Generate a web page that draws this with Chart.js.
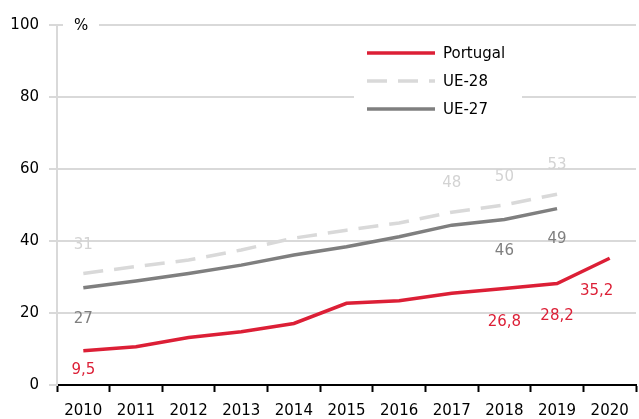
<!DOCTYPE html>
<html lang="pt">
<head>
<meta charset="UTF-8">
<script src="https://cdn.jsdelivr.net/npm/chart.js"></script>
<style>
  html, body { margin: 0; padding: 0; background: #fff; }
  .box { width: 639px; height: 419px; }
</style>
</head>
<body>
<div class="box"><canvas id="grafico" width="639" height="419"></canvas></div>
<script>
  // dados
  const anos = ['2010', '2011', '2012', '2013', '2014', '2015', '2016', '2017', '2018', '2019', '2020'];
  const portugal = [9.5, 10.6, 13.2, 14.8, 17.1, 22.7, 23.4, 25.5, 26.8, 28.2, 35.2];
  const ue28 = [31, 32.9, 34.7, 37.5, 40.8, 43, 45, 48, 50, 53, null];
  const ue27 = [27, 28.9, 31, 33.3, 36.1, 38.4, 41.2, 44.4, 46, 49, null];
  const yTicks = [0, 20, 40, 60, 80, 100];

  // pontos com rótulo
  const rotPortugal = [0, 8, 9, 10];
  const rotUe28 = [0, 7, 8, 9];
  const rotUe27 = [0, 8, 9];

  const fonte = '15px "DejaVu Sans"';
  const vermelho = '#dc1f36';
  const cinzaClaro = '#d9d9d9';
  const cinza = '#7f7f7f';

  // rótulos de valores
  const rotulos = {
    id: 'rotulos',
    afterDatasetsDraw(chart) {
      const ctx = chart.ctx;
      const specs = [
        { ds: 0, idx: rotPortugal, cor: vermelho, dy: [19, 34, 33, 33], dx: [0, 0, 0, -13], dec: true },
        { ds: 1, idx: rotUe28, cor: '#d3d3d3', dy: [-28, -29, -28, -29], dx: [0, 0, 0, 0], dec: false },
        { ds: 2, idx: rotUe27, cor: cinza, dy: [31, 32, 31], dx: [0, 0, 0], dec: false }
      ];
      ctx.save();
      ctx.font = fonte;
      ctx.textAlign = 'center';
      ctx.textBaseline = 'middle';
      specs.forEach(function (s) {
        const meta = chart.getDatasetMeta(s.ds);
        const dados = chart.data.datasets[s.ds].data;
        s.idx.forEach(function (i, k) {
          const p = meta.data[i];
          const v = dados[i];
          const txt = s.dec ? v.toFixed(1).replace('.', ',') : String(Math.round(v));
          ctx.fillStyle = s.cor;
          ctx.fillText(txt, p.x + s.dx[k], p.y + s.dy[k]);
        });
      });
      ctx.restore();
    }
  };

  // legenda dentro do gráfico e o símbolo %
  const legenda = {
    id: 'legenda',
    beforeDatasetsDraw(chart) {
      const ctx = chart.ctx;
      ctx.save();
      ctx.fillStyle = '#fff';
      ctx.fillRect(354, 36, 168, 82);
      ctx.fillRect(63, 18, 36, 14);
      ctx.font = fonte;
      ctx.textBaseline = 'middle';
      ctx.fillStyle = '#000';
      ctx.fillText('%', 74, 26);
      const itens = [
        { nome: 'Portugal', cor: vermelho, dash: [] },
        { nome: 'UE-28', cor: cinzaClaro, dash: [20, 11] },
        { nome: 'UE-27', cor: cinza, dash: [] }
      ];
      itens.forEach(function (it, i) {
        const y = 53 + i * 28;
        ctx.beginPath();
        ctx.setLineDash(it.dash);
        ctx.strokeStyle = it.cor;
        ctx.lineWidth = 3.5;
        ctx.moveTo(367, y);
        ctx.lineTo(435, y);
        ctx.stroke();
        ctx.setLineDash([]);
        ctx.fillStyle = '#000';
        ctx.fillText(it.nome, 443, y + 1);
      });
      ctx.restore();
    }
  };

  new Chart(document.getElementById('grafico'), {
    type: 'line',
    data: {
      labels: anos,
      datasets: [
        { label: 'Portugal', data: portugal, borderColor: vermelho, borderWidth: 3.5, pointRadius: 0, tension: 0 },
        { label: 'UE-28', data: ue28, borderColor: cinzaClaro, borderWidth: 3.5, borderDash: [20, 11], pointRadius: 0, tension: 0 },
        { label: 'UE-27', data: ue27, borderColor: cinza, borderWidth: 3.5, pointRadius: 0, tension: 0 }
      ]
    },
    options: {
      responsive: false,
      animation: false,
      layout: { padding: { top: 25, right: 3, left: 0, bottom: 0 } },
      plugins: { legend: { display: false }, tooltip: { enabled: false } },
      scales: {
        x: {
          offset: true,
          grid: { offset: true, drawOnChartArea: false, drawTicks: true, tickLength: 7, color: '#000', tickWidth: 2 },
          border: { color: '#000', width: 2 },
          ticks: { font: { family: 'DejaVu Sans', size: 15 }, color: '#000', padding: 10, maxRotation: 0, autoSkip: false },
          afterFit(scale) { scale.height = 34; }
        },
        y: {
          min: 0,
          max: 100,
          afterBuildTicks(scale) { scale.ticks = yTicks.map(function (v) { return { value: v }; }); },
          grid: { color: cinzaClaro, lineWidth: 2, tickLength: 8 },
          border: { color: cinzaClaro, width: 2 },
          ticks: { font: { family: 'DejaVu Sans', size: 15 }, color: '#000', padding: 10 },
          afterFit(scale) { scale.width = 57; }
        }
      }
    },
    plugins: [legenda, rotulos]
  });
</script>
</body>
</html>
